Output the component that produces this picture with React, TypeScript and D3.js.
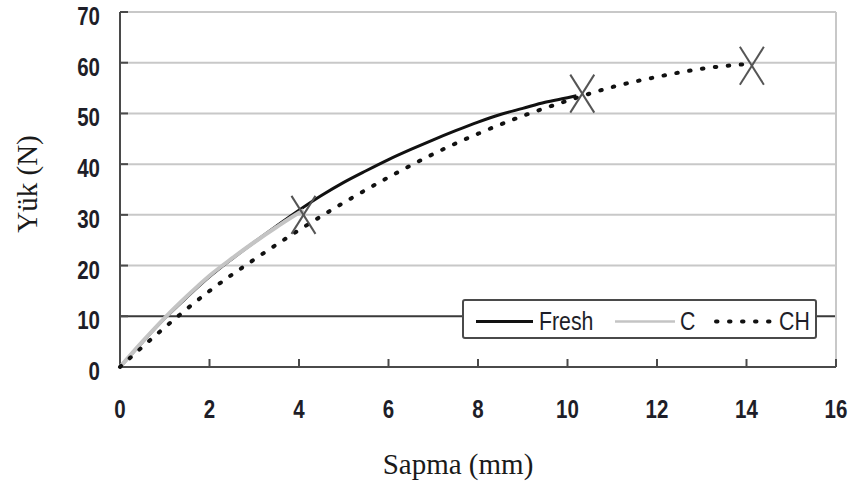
import React from "react";
import * as d3 from "d3";

// Load–deflection curves
const freshX = [0, 0.5, 1, 1.5, 2, 2.5, 3, 3.5, 4, 4.5, 5, 5.5, 6, 6.5, 7, 7.5, 8, 8.5, 9, 9.5, 10, 10.2];
const freshY = [0, 4.9, 9.6, 13.8, 17.8, 21.3, 24.6, 27.8, 30.9, 33.8, 36.4, 38.7, 40.9, 42.9, 44.8, 46.6, 48.3, 49.8, 51.0, 52.2, 53.1, 53.5];
const cX = [0, 0.5, 1, 1.5, 2, 2.5, 3, 3.5, 4, 4.1];
const cY = [0, 5.0, 9.7, 14.0, 18.0, 21.4, 24.6, 27.6, 30.4, 30.9];
const chX = [0, 1, 2, 3, 4, 5, 6, 7, 8, 9, 10, 11, 12, 13, 14.1];
const chY = [0, 7.8, 15.0, 21.2, 27.0, 32.4, 37.4, 42.0, 46.0, 49.5, 52.5, 55.2, 57.2, 58.8, 59.8];

// Failure points (X markers)
const failX = [4.1, 10.33, 14.12];
const failY = [30, 53.9, 59.4];

const xTicks = [0, 2, 4, 6, 8, 10, 12, 14, 16];
const yTicks = [0, 10, 20, 30, 40, 50, 60, 70];
const legendLabels = ["Fresh", "C", "CH"];

const W = 851;
const H = 496;
const M = { left: 120, right: 836, top: 12, bottom: 367 };

const sansFont = "'Liberation Sans', Arial, sans-serif";
const serifFont = "'Liberation Serif', 'Times New Roman', serif";
const NARROW = 0.82;

function NarrowText(props: {
  x: number;
  y: number;
  anchor?: string;
  size: number;
  bold?: boolean;
  children: React.ReactNode;
}) {
  return (
    <text
      transform={`translate(${props.x},${props.y}) scale(${NARROW},1)`}
      textAnchor={props.anchor || "start"}
      fontFamily={sansFont}
      fontWeight={props.bold ? "bold" : "normal"}
      fontSize={props.size}
      fill="#1e1e28"
    >
      {props.children}
    </text>
  );
}

export default function App() {
  const x = d3.scaleLinear().domain([0, 16]).range([M.left, M.right]);
  const y = d3.scaleLinear().domain([0, 70]).range([M.bottom, M.top]);

  const line = (xs: number[], ys: number[]) =>
    d3
      .line<number>()
      .x((_, i) => x(xs[i]))
      .y((d) => y(d))
      .curve(d3.curveMonotoneX)(ys) || "";

  const legY = 321.5;

  return (
    <div style={{ position: "absolute", left: 0, top: 0 }}>
      <svg width={W} height={H} style={{ display: "block", background: "#fff" }}>
        {/* grid */}
        {yTicks.filter((t) => t > 0).map((t) => (
          <line
            key={"g" + t}
            x1={M.left}
            x2={M.right}
            y1={y(t)}
            y2={y(t)}
            stroke={t === 10 ? "#3a3a3a" : "#c8c8c8"}
            strokeWidth={2}
          />
        ))}
        <line x1={M.right} x2={M.right} y1={M.top} y2={M.bottom} stroke="#c8c8c8" strokeWidth={2} />

        {/* axes */}
        <line x1={M.left} x2={M.left} y1={M.top} y2={M.bottom} stroke="#4a4a4a" strokeWidth={2} />
        <line x1={M.left} x2={M.right} y1={M.bottom} y2={M.bottom} stroke="#4a4a4a" strokeWidth={2} />
        {yTicks.map((t) => (
          <line key={"yt" + t} x1={M.left} x2={M.left + 8} y1={y(t)} y2={y(t)} stroke="#4a4a4a" strokeWidth={2} />
        ))}
        {xTicks.map((t) => (
          <line key={"xt" + t} x1={x(t)} x2={x(t)} y1={M.bottom} y2={M.bottom - 8} stroke="#4a4a4a" strokeWidth={2} />
        ))}

        {/* tick labels */}
        {yTicks.map((t) => (
          <NarrowText key={"yl" + t} x={100} y={y(t) + 13} anchor="end" size={25} bold>
            {t}
          </NarrowText>
        ))}
        {xTicks.map((t) => (
          <NarrowText key={"xl" + t} x={x(t)} y={418} anchor="middle" size={25} bold>
            {t}
          </NarrowText>
        ))}

        {/* axis titles */}
        <text x={458} y={474} textAnchor="middle" fontFamily={serifFont} fontSize={29} fill="#1a1a1a">
          Sapma (mm)
        </text>
        <text
          transform={`translate(37, 184) rotate(-90)`}
          textAnchor="middle"
          fontFamily={serifFont}
          fontSize={29}
          fill="#1a1a1a"
        >
          Yük (N)
        </text>

        {/* curves */}
        <path d={line(freshX, freshY)} fill="none" stroke="#111" strokeWidth={3} />
        <path d={line(cX, cY)} fill="none" stroke="#c4c4c4" strokeWidth={4} />
        <path
          d={line(chX, chY)}
          fill="none"
          stroke="#111"
          strokeWidth={4}
          strokeDasharray="1.5 11.5"
          strokeLinecap="round"
        />

        {/* failure markers */}
        {failX.map((fx, i) => {
          const cx = x(fx);
          const cy = y(failY[i]);
          return (
            <g key={"m" + i} stroke="#555" strokeWidth={2}>
              <line x1={cx - 12} y1={cy - 19} x2={cx + 12} y2={cy + 19} />
              <line x1={cx + 12} y1={cy - 19} x2={cx - 12} y2={cy + 19} />
            </g>
          );
        })}

        {/* legend */}
        <rect x={463} y={300} width={353} height={38} rx={2} fill="#fff" stroke="#4a4a4a" strokeWidth={2} />
        <line x1={476} x2={533} y1={legY} y2={legY} stroke="#111" strokeWidth={3} />
        <NarrowText x={539} y={330} size={26}>{legendLabels[0]}</NarrowText>
        <line x1={615} x2={675} y1={legY} y2={legY} stroke="#c4c4c4" strokeWidth={2.5} />
        <NarrowText x={680} y={330} size={26}>{legendLabels[1]}</NarrowText>
        <line
          x1={716}
          x2={776}
          y1={legY}
          y2={legY}
          stroke="#111"
          strokeWidth={4}
          strokeDasharray="1.5 11.5"
          strokeLinecap="round"
        />
        <NarrowText x={779} y={330} size={26}>{legendLabels[2]}</NarrowText>
      </svg>
    </div>
  );
}
